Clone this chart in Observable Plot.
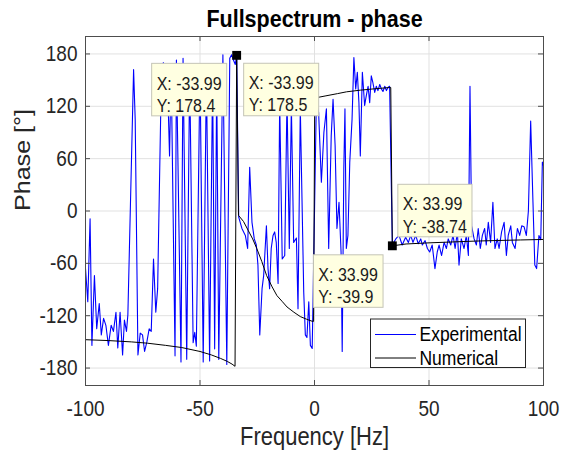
<!DOCTYPE html>
<html><head><meta charset="utf-8">
<script src="https://cdn.jsdelivr.net/npm/d3@7"></script>
<script src="https://cdn.jsdelivr.net/npm/@observablehq/plot@0.6"></script>
<style>
html,body{margin:0;padding:0;background:#fff;}
#chart svg{display:block;}
</style></head><body><div id="chart"></div>
<script>
// ---------- data ----------
const titleText = "Fullspectrum - phase";
const xLabel = "Frequency [Hz]";
const yLabel = "Phase [°]";
const seriesNames = ["Experimental", "Numerical"];
const xTicks = [-100, -50, 0, 50, 100];
const yTicks = [-180, -120, -60, 0, 60, 120, 180];

const expFreq = [
-100.0,-99.0,-98.0,-97.2,-96.1,-95.1,-94.0,-93.1,-92.1,-91.1,-90.0,-88.8,-87.8,-86.7,-85.9,-84.9,-83.8,-83.0,-82.1,-81.5,
-79.0,-78.3,-77.1,-76.1,-75.1,-74.2,-73.2,-72.2,-71.3,-70.3,-69.3,-68.5,
-66.8,-66.0,-64.1,-63.3,-62.6,-60.9,-60.3,-58.3,-57.4,-55.8,-54.5,-53.0,-52.3,-51.6,-50.0,-48.6,-47.2,-45.8,
-44.5,-43.6,-42.7,-41.8,-40.0,-38.3,-37.0,-36.2,-35.4,-34.6,-33.99,
-33.1,-31.7,-30.2,-29.2,-28.3,-27.3,-26.3,-25.4,-24.7,-23.9,-22.9,-22.2,-21.0,-20.3,-19.6,-18.9,-18.1,-17.4,-16.7,-15.9,
-15.2,-14.1,-13.0,-12.0,-11.0,-10.1,-9.1,-7.9,-7.2,-6.2,-4.7,-4.0,-3.3,-2.5,-1.8,-1.0,
0.8,1.8,3.0,4.1,5.2,6.2,7.3,8.1,9.0,9.8,10.7,11.6,12.1,12.8,13.3,13.9,14.6,15.4,16.4,17.2,
18.0,18.7,19.4,20.0,20.9,21.9,22.6,23.4,24.1,24.8,25.5,26.3,27.0,27.7,28.5,29.2,29.9,30.7,31.4,32.1,32.8,33.99,
35.5,36.9,38.3,39.8,41.0,42.0,43.0,44.2,45.3,46.4,47.1,48.3,49.3,50.3,51.4,52.6,53.6,54.4,55.5,56.6,
57.6,58.4,59.5,60.5,61.4,62.4,63.1,64.1,65.3,66.3,67.2,67.9,68.6,69.7,70.7,71.5,72.4,73.3,74.3,75.0,
75.9,76.9,77.9,78.8,79.8,80.6,81.7,82.8,83.8,84.6,85.7,86.4,87.6,88.6,89.6,90.5,91.5,92.5,93.4,94.4,
95.4,96.2,97.0,98.0,98.8,99.5,100.0
];
const expPhase = [
-66,-104,-9,-154,-74,-135,-106,-142,-123,-131,-154,-131,-138,-116,-157,-116,-165,-125,-138,-119,
162,105,-165,-140,-142,-161,-150,-135,-138,-55,-116,-89,
165,170,140,63,165,-166,173,-173,175,-170,160,-151,-139,-155,165,-173,160,-172,
155,-158,150,-170,179,-176,175,179,173,168,178.5,
-7,-20,-28,-43,50,-13,-32,-39,-62,-142,-89,-74,-17,-66,-89,-43,-28,-24,-36,-83,
125,-55,-51,130,-43,120,-36,-31,-112,118,-93,-142,-145,-104,-154,-157.5,
124,113,33,90,117,-43,86,128,75,-20,10,-47,-161,48,117,-43,-28,56,105,176,
140,159,124,63,159,121,132,143,124,155,147,136,143,138,145,140,137,143,138,141.5,143,-38.74,
-32,-28,-39,-30,-36,-28,-36,-28,-37.5,-32,-39,-34,-43,-47,-39,-66,-47,-39,-51,-36,
-43,-32,-39,-28,-43,-24,-62,-32,-43,-28,-51,143,-17,-32,-39,-20,-43,-28,-20,-39,
-13,-36,10,-43,-32,-43,-24,-13,-51,-28,-17,-36,-43,-20,-28,-17,-18,-28,0,103,
10,-62,-66,-28,-33,56,52
];

const numFreq = [-100,-90,-80,-73,-65,-58,-50,-45,-41,-38,-36,-34.7,-33.99,
  -33.2,-31,-29,-27,-25.2,-23,-20.9,-18.5,-16.4,-14,-12,-9,-6.2,-3.5,-1.1,-0.4,
  0.1,5,10,14,20,26,32.7,33.3,33.99,40,50,60,70,80,90,100];
const numPhase = [-147.5,-148.5,-150,-151.5,-154,-156.5,-161,-165,-169,-172.5,-175.5,-178,178.4,
  -5,-12,-22,-32,-43,-58,-74,-87,-97,-104,-110,-116,-121,-124,-126.3,-126.5,
  129.5,132,134.5,136.6,138.5,140,141.5,141.5,-39.9,-37.8,-36.5,-35.5,-34.5,-33.8,-33.2,-32.6];

const tipFreq = [-33.99, -33.99, 33.99, 33.99];
const tipPhase = [178.4, 178.5, -39.9, -38.74];
const markerFreq = [-33.99, 33.99];
const markerPhase = [178.4, -39.9];

// ---------- layout ----------
const W = 567, H = 452;
const mL = 85, mR = 24, mT = 36, mB = 67;
const frameW = W - mL - mR, frameH = H - mT - mB;
const FONT = "'Liberation Sans', Arial, Helvetica, sans-serif";
const TXT = "#262626";
const STRETCH = 1.14; // reference text is drawn taller than wide

const exp = expFreq.map((f, i) => ({f, p: expPhase[i]}));
const num = numFreq.map((f, i) => ({f, p: numPhase[i]}));
const tips = tipFreq.map((f, i) => ({f, p: tipPhase[i], label: `X: ${f}\nY: ${tipPhase[i]}`}));
const markers = markerFreq.map((f, i) => ({f, p: markerPhase[i]}));
// placement of each datatip text relative to its point (cap-top anchored)
const tipPlace = [
  {dx: -80, dy: 18.5},
  {dx: 12, dy: 18.5},
  {dx: -74, dy: 19.5},
  {dx: 10.5, dy: -50}
];

const tickStroke = "#4d4d4d";
const chart = Plot.plot({
  width: W, height: H,
  marginLeft: mL, marginRight: mR, marginTop: mT, marginBottom: mB,
  style: {fontFamily: FONT, fontSize: "19px", color: TXT, background: "#fff"},
  x: {domain: [-100, 100], ticks: xTicks, tickSize: 0, tickPadding: 15, tickFormat: d => String(d), label: null},
  y: {domain: [-200, 200], ticks: yTicks, tickSize: 0, tickPadding: 8, tickFormat: d => String(d), label: null},
  marks: [
    Plot.ruleX(xTicks, {x: d => d, stroke: "#e1e1e1", strokeWidth: 1}),
    Plot.ruleY(yTicks, {y: d => d, stroke: "#e1e1e1", strokeWidth: 1}),
    Plot.line(exp, {x: "f", y: "p", stroke: "#0000ff", strokeWidth: 1.1, curve: "linear"}),
    Plot.line(num, {x: "f", y: "p", stroke: "#000000", strokeWidth: 1, curve: "linear"}),
    Plot.frame({stroke: tickStroke, strokeWidth: 1}),
    Plot.ruleX(xTicks, {x: d => d, insetTop: frameH - 5, stroke: tickStroke}),
    Plot.ruleX(xTicks, {x: d => d, insetBottom: frameH - 5, stroke: tickStroke}),
    Plot.ruleY(yTicks, {y: d => d, insetRight: frameW - 5, stroke: tickStroke}),
    Plot.ruleY(yTicks, {y: d => d, insetLeft: frameW - 5, stroke: tickStroke}),
    Plot.text([titleText], {frameAnchor: "top", text: d => d, dy: -10, lineAnchor: "bottom", fontWeight: "bold", fontSize: 21.5, fill: "#000"}),
    Plot.text([xLabel], {frameAnchor: "bottom", text: d => d, dy: 59, lineAnchor: "bottom", fontSize: 22, fill: TXT}),
    Plot.text([yLabel], {frameAnchor: "left", text: d => d, dx: -63, rotate: -90, fontSize: 22, fill: TXT}),
    ...tips.map((t, i) => Plot.text([t], {x: "f", y: "p", text: "label", fontSize: 16, lineHeight: 1.21,
      fill: "#1a1a1a", textAnchor: "start", lineAnchor: "top", ...tipPlace[i]})),
    Plot.dot(markers, {x: "f", y: "p", symbol: "square", r: 5, fill: "#000", stroke: "none"})
  ]
});
document.getElementById("chart").append(chart);
const svg = d3.select(chart);

// datatip boxes behind tip texts
svg.selectAll("text").filter(function() { return (this.textContent || "").startsWith("X:"); }).each(function() {
  const bb = this.getBBox();
  d3.select(this.parentNode).insert("rect", () => this)
    .attr("transform", this.getAttribute("transform"))
    .attr("x", bb.x - 5).attr("y", -10.5)
    .attr("width", bb.width + 10).attr("height", 52.5)
    .attr("fill", "#ffffe1").attr("stroke", "#c4c4b6").attr("stroke-width", 1);
});

// legend (inside lower-right of the axes)
const fx1 = mL + frameW, fy1 = mT + frameH;
const lgX = fx1 - 172.5, lgY = fy1 - 66, lgW = 155, lgH = 48.5;
const lg = svg.append("g").attr("font-family", FONT).attr("font-size", 17.5).attr("fill", "#000").attr("text-anchor", "start");
lg.append("rect").attr("x", lgX).attr("y", lgY).attr("width", lgW).attr("height", lgH)
  .attr("fill", "#fff").attr("stroke", "#262626").attr("stroke-width", 1);
const lgColors = ["#0000ff", "#000000"];
seriesNames.forEach((name, i) => {
  const yy = lgY + 15.5 + i * 23.5;
  lg.append("line").attr("x1", lgX + 4.5).attr("x2", lgX + 45.5).attr("y1", yy).attr("y2", yy)
    .attr("stroke", lgColors[i]).attr("stroke-width", i === 0 ? 1.1 : 1);
  lg.append("text").attr("x", lgX + 49).attr("y", yy).attr("dy", "0.35em").text(name);
});

// stretch all text vertically about its anchor point
svg.selectAll("text").each(function() {
  const x = +this.getAttribute("x") || 0, y = +this.getAttribute("y") || 0;
  const tr = this.getAttribute("transform") || "";
  const s = /rotate/.test(tr) ? `scale(${STRETCH},1)` : `scale(1,${STRETCH})`;
  this.setAttribute("transform", `${tr} translate(${x},${y}) ${s} translate(${-x},${-y})`);
});
</script></body></html>
